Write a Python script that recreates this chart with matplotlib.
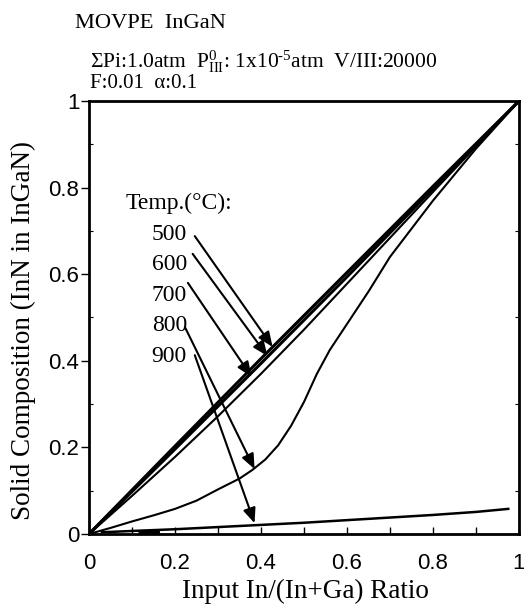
import matplotlib
matplotlib.use("Agg")
import matplotlib.pyplot as plt
from matplotlib.ticker import MultipleLocator

# ---------------- data ----------------
x_500 = [0.0, 0.2, 0.4, 0.6, 0.8, 1.0]
y_500 = [0.0, 0.203, 0.405, 0.604, 0.803, 1.0]

x_600 = [0.0, 0.2, 0.4, 0.6, 0.8, 1.0]
y_600 = [0.0, 0.196, 0.394, 0.594, 0.797, 1.0]

x_700 = [0.0, 0.1, 0.2, 0.3, 0.4, 0.5, 0.6, 0.7, 0.8, 0.9, 1.0]
y_700 = [0.0, 0.088, 0.178, 0.272, 0.370, 0.472, 0.578, 0.684, 0.790, 0.895, 1.0]

x_800 = [0.0, 0.05, 0.1, 0.15, 0.2, 0.25, 0.3, 0.35, 0.38, 0.41, 0.44, 0.47, 0.5,
         0.53, 0.56, 0.6, 0.65, 0.7, 0.75, 0.8, 0.85, 0.9, 0.95, 1.0]
y_800 = [0.0, 0.014, 0.029, 0.043, 0.058, 0.077, 0.103, 0.128, 0.148, 0.172, 0.205, 0.25, 0.305,
         0.37, 0.425, 0.485, 0.56, 0.64, 0.705, 0.77, 0.83, 0.89, 0.945, 1.0]

x_900 = [0.03, 0.1, 0.2, 0.3, 0.4, 0.5, 0.6, 0.7, 0.8, 0.9, 0.975]
y_900 = [0.004, 0.007, 0.011, 0.016, 0.021, 0.026, 0.032, 0.038, 0.044, 0.051, 0.058]

x_low = [0.115, 0.165]
y_low = [0.003, 0.004]

temps = ["500", "600", "700", "800", "900"]
arrow_start = [(0.246, 0.688), (0.241, 0.647), (0.230, 0.580), (0.223, 0.478), (0.246, 0.413)]
arrow_tip = [(0.427, 0.432), (0.415, 0.411), (0.378, 0.363), (0.385, 0.150), (0.385, 0.025)]

x_ticks = [0, 0.2, 0.4, 0.6, 0.8, 1]
x_ticklabels = ["0", "0.2", "0.4", "0.6", "0.8", "1"]
y_ticks = [0, 0.2, 0.4, 0.6, 0.8, 1]
y_ticklabels = ["0", "0.2", "0.4", "0.6", "0.8", "1"]

# ---------------- figure ----------------
W, H = 524, 612
plt.rcParams['mathtext.fontset'] = 'custom'
plt.rcParams['mathtext.rm'] = 'Liberation Serif'
plt.rcParams['mathtext.it'] = 'Liberation Serif:italic'
plt.rcParams['mathtext.bf'] = 'Liberation Serif:bold'

fig = plt.figure(figsize=(W / 100, H / 100), dpi=100)
L, R, T, B = 89, 519, 101, 534
ax = fig.add_axes([L / W, 1 - B / H, (R - L) / W, (B - T) / H])

def fx(px):
    return px / W

def fy(py):
    return 1 - py / H

ax.plot(x_500, y_500, color='k', lw=2.2, solid_capstyle='butt')
ax.plot(x_600, y_600, color='k', lw=2.2, solid_capstyle='butt')
ax.plot(x_700, y_700, color='k', lw=1.5)
ax.plot(x_800, y_800, color='k', lw=1.5, solid_joinstyle='round')
ax.plot(x_900, y_900, color='k', lw=1.8)
ax.plot(x_low, y_low, color='k', lw=3.5, solid_capstyle='butt')

ax.set_xlim(0, 1)
ax.set_ylim(0, 1)

for s in ax.spines.values():
    s.set_linewidth(2.0)

serif = 'Liberation Serif'
sans = 'Liberation Sans'

ax.set_xticks(x_ticks)
ax.set_xticklabels(x_ticklabels, fontfamily=sans, fontsize=16)
ax.set_yticks(y_ticks)
ax.set_yticklabels(y_ticklabels, fontfamily=sans, fontsize=16)
ax.xaxis.set_minor_locator(MultipleLocator(0.1))
ax.yaxis.set_minor_locator(MultipleLocator(0.1))
ax.tick_params(axis='x', which='major', direction='in', length=5, width=1, pad=14)
ax.tick_params(axis='x', which='minor', direction='in', length=5, width=1)
ax.tick_params(axis='y', which='major', direction='out', length=6, width=1, pad=1)
ax.tick_params(axis='y', which='minor', direction='in', length=3, width=0.8, right=True)

# axis labels
fig.text(fx(305), fy(598), "Input In/(In+Ga) Ratio", fontfamily=serif, fontsize=19.5,
         ha='center', va='baseline')
fig.text(fx(23), fy(330), "Solid Composition (InN in InGaN)", fontfamily=serif, fontsize=19.5,
         ha='center', va='center', rotation=90)

# header texts
fig.text(fx(75), fy(28), "MOVPE  InGaN", fontfamily=serif, fontsize=16.2, ha='left', va='baseline')
fig.text(fx(90), fy(68),
         r"ΣPi:1.0atm  P$^{\mathrm{0}}_{\mathrm{III}}$: 1x10$^{\mathrm{\text{-}5}}$atm  V/III:20000",
         fontfamily=serif, fontsize=15.5, ha='left', va='baseline')
fig.text(fx(90), fy(88), "F:0.01  α:0.1", fontfamily=serif, fontsize=15, ha='left', va='baseline')

# temperature labels
ax.text(0.084, 0.751, "Temp.(°C):", fontfamily=serif, fontsize=17, ha='left', va='baseline',
        transform=ax.transAxes)
label_baselines = [240, 270, 301, 331, 362]
for t, bl in zip(temps, label_baselines):
    fig.text(fx(187), fy(bl), t, fontfamily=serif, fontsize=17, ha='right', va='baseline')

for (xs, ys), (xt, yt) in zip(arrow_start, arrow_tip):
    ax.annotate('', xy=(xt, yt), xytext=(xs, ys),
                arrowprops=dict(arrowstyle='-|>,head_length=0.9,head_width=0.38',
                                mutation_scale=10, lw=1.5, color='k',
                                shrinkA=0, shrinkB=0))

fig.savefig("out.png", dpi=100)
